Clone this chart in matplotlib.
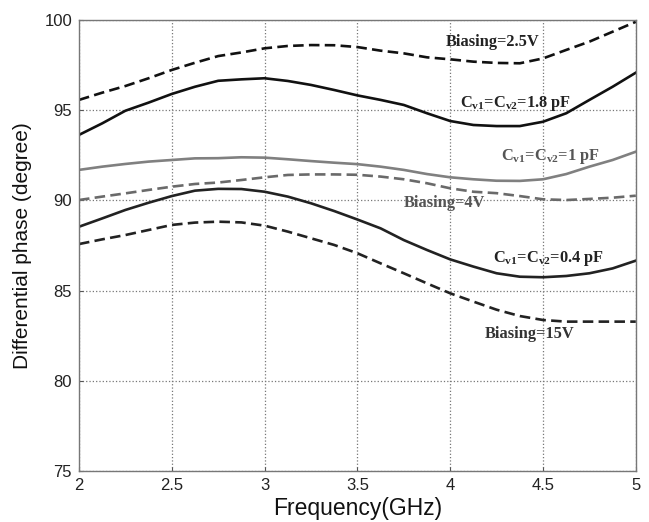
"""
Differential phase versus frequency for several varactor settings
"""

import matplotlib.pyplot as plt

freq = [2.0, 2.125, 2.25, 2.375, 2.5, 2.625, 2.75, 2.875, 3.0, 3.125, 3.25,
        3.375, 3.5, 3.625, 3.75, 3.875, 4.0, 4.125, 4.25, 4.375, 4.5, 4.625,
        4.75, 4.875, 5.0]

bias_2v5 = [95.57, 95.97, 96.34, 96.77, 97.23, 97.63, 98.0, 98.2, 98.43,
            98.56, 98.61, 98.6, 98.5, 98.3, 98.15, 97.93, 97.82, 97.69,
            97.62, 97.6, 97.87, 98.34, 98.8, 99.35, 99.9]
cv_1p8 = [93.63, 94.27, 94.97, 95.42, 95.9, 96.3, 96.63, 96.71, 96.77,
          96.62, 96.4, 96.12, 95.82, 95.57, 95.29, 94.83, 94.4, 94.18,
          94.12, 94.12, 94.36, 94.83, 95.57, 96.3, 97.08]
cv_1p0 = [91.69, 91.87, 92.02, 92.15, 92.24, 92.33, 92.34, 92.39, 92.37,
          92.28, 92.18, 92.09, 92.01, 91.87, 91.69, 91.46, 91.28, 91.17,
          91.09, 91.08, 91.17, 91.46, 91.87, 92.24, 92.7]
bias_4v = [90.02, 90.21, 90.39, 90.58, 90.76, 90.91, 90.99, 91.13, 91.28,
           91.41, 91.44, 91.44, 91.42, 91.32, 91.17, 90.95, 90.67, 90.48,
           90.4, 90.24, 90.06, 90.02, 90.08, 90.15, 90.26]
cv_0p4 = [88.54, 89.0, 89.47, 89.87, 90.24, 90.54, 90.64, 90.63, 90.48,
          90.21, 89.84, 89.41, 88.94, 88.45, 87.8, 87.25, 86.73, 86.33,
          85.96, 85.77, 85.74, 85.81, 85.96, 86.23, 86.66]
bias_15v = [87.58, 87.84, 88.08, 88.36, 88.64, 88.77, 88.82, 88.78, 88.6,
            88.27, 87.9, 87.53, 87.07, 86.51, 85.96, 85.4, 84.85, 84.39,
            83.94, 83.59, 83.37, 83.28, 83.28, 83.28, 83.28]

xticks = [2, 2.5, 3, 3.5, 4, 4.5, 5]
xticklabels = ['2', '2.5', '3', '3.5', '4', '4.5', '5']
yticks = [75, 80, 85, 90, 95, 100]

plt.rcParams['font.family'] = ['Liberation Sans', 'DejaVu Sans']
plt.rcParams['mathtext.fontset'] = 'custom'
plt.rcParams['mathtext.rm'] = 'Liberation Serif:bold'
plt.rcParams['mathtext.it'] = 'Liberation Serif:bold'

fig = plt.figure(figsize=(6.49, 5.22), dpi=100)
ax = fig.add_axes([0.1217, 0.0977, 0.858, 0.864])

dash = (0, (4, 2))
lw = 1.9
ax.plot(freq, bias_2v5, color='#111111', lw=lw, linestyle=dash)
ax.plot(freq, cv_1p8, color='#111111', lw=lw)
ax.plot(freq, cv_1p0, color='#808080', lw=lw)
ax.plot(freq, bias_4v, color='#6a6a6a', lw=lw, linestyle=dash)
ax.plot(freq, cv_0p4, color='#222222', lw=lw)
ax.plot(freq, bias_15v, color='#222222', lw=lw, linestyle=dash)

# curve labels
lab = dict(family='Liberation Serif', fontweight='bold', fontsize=11.8,
           ha='center', va='center')
ax.text(4.23, 98.8, 'Biasing=2.5V', color='#222222', **lab)
ax.text(4.35, 95.35, r'C$_{\rm v1}$=C$_{\rm v2}$=1.8 pF', color='#222222', **lab)
ax.text(4.54, 92.45, r'C$_{\rm v1}$=C$_{\rm v2}$=1 pF', color='#555555', **lab)
ax.text(3.97, 89.85, 'Biasing=4V', color='#555555', **lab)
ax.text(4.53, 86.8, r'C$_{\rm v1}$=C$_{\rm v2}$=0.4 pF', color='#222222', **lab)
ax.text(4.43, 82.6, 'Biasing=15V', color='#333333', **lab)

ax.set_xlim(2, 5)
ax.set_ylim(75, 100)
ax.set_xticks(xticks)
ax.set_xticklabels(xticklabels)
ax.set_yticks(yticks)
ax.grid(True, linestyle=':', color='#777777', lw=0.9)
ax.tick_params(direction='in', length=3, labelsize=12, colors='#555555',
               labelcolor='#222222', pad=5)
for sp in ax.spines.values():
    sp.set_color('#777777')
    sp.set_linewidth(1.0)

ax.set_xlabel('Frequency(GHz)', fontsize=16.5, color='#111111', labelpad=3)
ax.set_ylabel('Differential phase (degree)', fontsize=15, color='#111111',
              labelpad=9)

fig.savefig('out.png', dpi=100)
